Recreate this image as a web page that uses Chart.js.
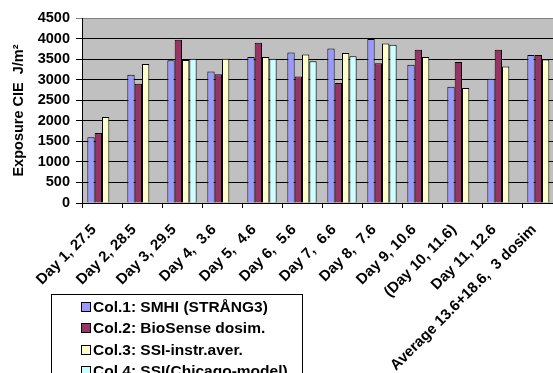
<!DOCTYPE html>
<html lang="en">
<head>
    <meta charset="UTF-8">
    <title>Exposure CIE J/m²</title>
    <script src="https://cdn.jsdelivr.net/npm/chart.js@4"></script>
    <style>
        body { margin: 0; overflow: hidden; background: #fff; }
        #wrap { width: 553px; height: 373px; overflow: hidden; }
    </style>
</head>
<body>
    <div id="wrap"><canvas id="uvChart" width="570" height="373"></canvas></div>
    <script>
        // categories (the second space is non-breaking so the canvas keeps it)
        const dayLabels = [
            'Day 1, 27.5', 'Day 2, 28.5', 'Day 3, 29.5', 'Day 4,\u00a0 3.6',
            'Day 5,\u00a0 4.6', 'Day 6,\u00a0 5.6', 'Day 7,\u00a0 6.6', 'Day 8,\u00a0 7.6',
            'Day 9, 10.6', '(Day 10, 11.6)', 'Day 11, 12.6', 'Average 13.6+18.6,\u00a0 3 dosim'
        ];

        // series values (J/m²)
        const smhi       = [1600, 3120, 3470, 3200, 3550, 3660, 3760, 3990, 3360, 2830, 3020, 3600];
        const bioSense   = [1700, 2900, 3970, 3130, 3900, 3080, 2920, 3400, 3730, 3430, 3730, 3600];
        const ssiInstr   = [2090, 3380, 3480, 3510, 3550, 3610, 3650, 3880, 3550, 2800, 3320, 3490];
        const ssiChicago = [null, null, 3510, null, 3510, 3450, 3570, 3850, null, null, null, null];

        const seriesNames = [
            'Col.1: SMHI (STRÅNG3)',
            'Col.2: BioSense dosim.',
            'Col.3: SSI-instr.aver.',
            'Col.4: SSI(Chicago-model)'
        ];
        const seriesColors = ['#9999FF', '#993366', '#FFFFCC', '#CCFFFF'];
        const seriesData = [smhi, bioSense, ssiInstr, ssiChicago];

        const yMax = 4500;
        const yStep = 500;

        const fontFamily = '"Liberation Sans", Arial, sans-serif';

        // grey plot area
        const plotBackground = {
            id: 'plotBackground',
            beforeDraw(chart) {
                const { ctx, chartArea: a } = chart;
                ctx.save();
                ctx.fillStyle = '#C0C0C0';
                ctx.fillRect(a.left, a.top, a.right - a.left, a.bottom - a.top);
                ctx.restore();
            }
        };

        // boxed legend sitting under the first labels
        const boxLegend = {
            id: 'boxLegend',
            afterDraw(chart) {
                const ctx = chart.ctx;
                ctx.save();
                ctx.lineWidth = 1;
                ctx.strokeStyle = '#000';
                ctx.strokeRect(51.5, 294.5, 251, 120);
                ctx.font = 'bold 15.5px ' + fontFamily;
                ctx.textBaseline = 'middle';
                chart.data.datasets.forEach((ds, i) => {
                    const y = Math.round(307 + i * 21.4);
                    ctx.fillStyle = ds.backgroundColor;
                    ctx.fillRect(82, y - 4, 8, 8);
                    ctx.strokeStyle = '#000';
                    ctx.strokeRect(81.5, y - 4.5, 9, 9);
                    ctx.fillStyle = '#000';
                    ctx.fillText(ds.label, 93, y + 1);
                });
                ctx.restore();
            }
        };

        new Chart(document.getElementById('uvChart'), {
            type: 'bar',
            data: {
                labels: dayLabels,
                datasets: seriesNames.map((name, i) => ({
                    label: name,
                    data: seriesData[i],
                    backgroundColor: seriesColors[i],
                    borderColor: '#000',
                    borderWidth: 1
                }))
            },
            options: {
                responsive: false,
                animation: false,
                layout: { padding: { top: 18, right: 8, left: 0, bottom: 0 } },
                datasets: { bar: { categoryPercentage: 0.733, barPercentage: 1 } },
                plugins: {
                    legend: { display: false },
                    tooltip: { enabled: false }
                },
                scales: {
                    x: {
                        grid: { offset: true, drawOnChartArea: false, color: '#000', tickLength: 5 },
                        border: { color: '#000' },
                        ticks: {
                            autoSkip: false,
                            minRotation: 45,
                            maxRotation: 45,
                            labelOffset: -8,
                            padding: 13,
                            color: '#000',
                            font: { family: fontFamily, size: 15, weight: 'bold' }
                        },
                        afterFit: s => { s.height = 170; }
                    },
                    y: {
                        min: 0,
                        max: yMax,
                        ticks: {
                            stepSize: yStep,
                            padding: 6,
                            color: '#000',
                            font: { family: fontFamily, size: 14.5, weight: 'bold' },
                            callback: v => String(v)
                        },
                        grid: {
                            color: c => (c.tick && c.tick.value === yMax ? '#808080' : '#000'),
                            tickLength: 6
                        },
                        border: { color: '#000' },
                        title: {
                            display: true,
                            text: 'Exposure CIE  J/m²',
                            color: '#000',
                            padding: { top: 10, bottom: 0 },
                            font: { family: fontFamily, size: 14.5, weight: 'bold' }
                        },
                        afterFit: s => { s.width = 82; }
                    }
                }
            },
            plugins: [plotBackground, boxLegend]
        });
    </script>
</body>
</html>
